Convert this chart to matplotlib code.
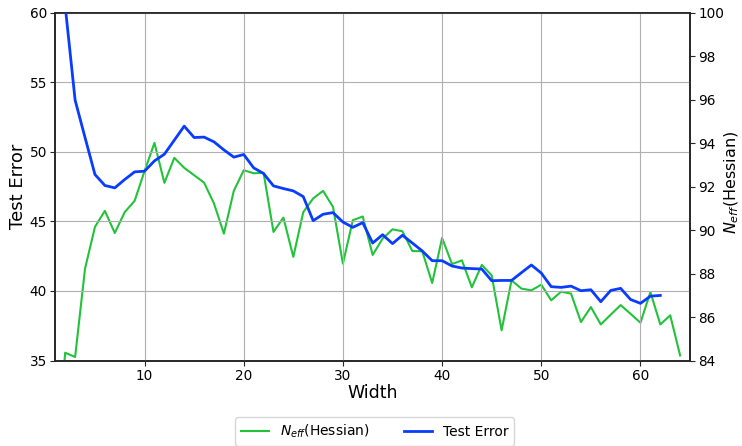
import numpy as np
import matplotlib
matplotlib.use("Agg")
import matplotlib.pyplot as plt

# widths 1..64 (error stops at 62)
widthsNeff = list(range(1, 65))
widthsErr = list(range(1, 63))

neffHessian = [79.0, 84.36, 84.16, 88.23, 90.15, 90.89, 89.87, 90.83, 91.35, 92.72,
               94.02, 92.18, 93.33, 92.87, 92.53, 92.19, 91.23, 89.84, 91.81, 92.76,
               92.62, 92.64, 89.92, 90.58, 88.77, 90.83, 91.46, 91.81, 91.07, 88.46,
               90.46, 90.63, 88.86, 89.61, 90.04, 89.95, 89.04, 89.03, 87.57, 89.64,
               88.44, 88.61, 87.37, 88.40, 87.92, 85.39, 87.69, 87.31, 87.23, 87.49,
               86.77, 87.17, 87.08, 85.77, 86.46, 85.66, 86.11, 86.55, 86.15, 85.74,
               87.15, 85.66, 86.08, 84.23]

testError = [70.0, 60.5, 53.73, 51.04, 48.38, 47.59, 47.42, 48.02, 48.57, 48.62,
             49.36, 49.84, 50.85, 51.86, 51.04, 51.07, 50.73, 50.15, 49.63, 49.82,
             48.86, 48.45, 47.56, 47.37, 47.20, 46.79, 45.06, 45.52, 45.64, 44.96,
             44.58, 44.92, 43.45, 44.05, 43.41, 44.01, 43.45, 42.88, 42.18, 42.18,
             41.80, 41.65, 41.61, 41.58, 40.74, 40.76, 40.76, 41.32, 41.87, 41.29,
             40.31, 40.26, 40.35, 40.02, 40.09, 39.23, 40.04, 40.19, 39.39, 39.11,
             39.63, 39.68]

fig = plt.figure(figsize=(7.42, 4.46), dpi=100)
ax = fig.add_axes([0.0745, 0.1917, 0.8555, 0.7792])
ax2 = ax.twinx()

blueLine, = ax.plot(widthsErr, testError, color="#0a3cff", linewidth=2, zorder=3)
greenLine, = ax2.plot(widthsNeff, neffHessian, color="#22c33a", linewidth=1.5)

ax.set_zorder(ax2.get_zorder() + 1)
ax.patch.set_visible(False)

ax.set_xlim(1, 65)
ax.set_ylim(35, 60)
ax2.set_ylim(84, 100)
ax.set_yticks([35, 40, 45, 50, 55, 60])
ax2.set_yticks(np.arange(84, 101, 2))
ax.set_xticks([10, 20, 30, 40, 50, 60])

ax.grid(True, color="#b0b0b0", linewidth=0.8)
ax.set_axisbelow(True)

for a in (ax, ax2):
    for s in a.spines.values():
        s.set_linewidth(1.2)
        s.set_color("#262626")
    a.tick_params(labelsize=9.8, length=3.5, pad=2.5, color="#262626")

ax.set_xlabel("Width", fontsize=12.5, labelpad=1)
ax.set_ylabel("Test Error", fontsize=13, labelpad=2)
# right label placed by hand so it stays inside the figure
fig.text(732 / 742, 1 - 182 / 446, "$N_{eff}$(Hessian)", fontsize=11.5,
         rotation=90, ha="center", va="center")

fig.legend([greenLine, blueLine], ["$N_{eff}$(Hessian)", "Test Error"],
           loc="center", bbox_to_anchor=(0.505, 0.032), ncol=2, fontsize=10,
           handlelength=2.0, columnspacing=2.5)

fig.savefig("out.png", dpi=100)
